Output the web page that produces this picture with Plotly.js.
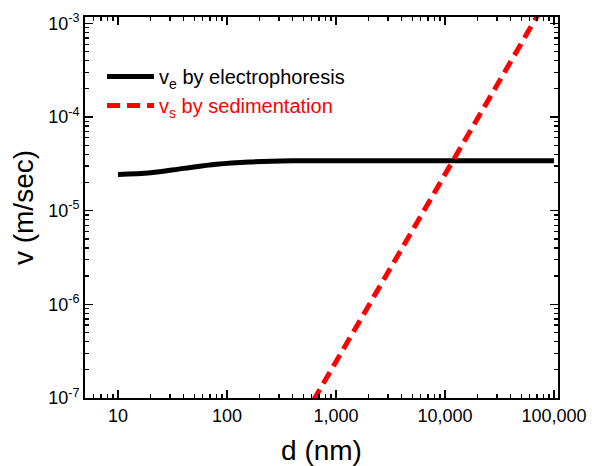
<!DOCTYPE html>
<html>
<head>
<meta charset="utf-8">
<script src="https://cdn.plot.ly/plotly-3.0.1.min.js"></script>
<style>html,body{margin:0;padding:0;background:#fff;}#chart{width:592px;height:466px;}</style>
</head>
<body>
<div id="chart"></div>
<script>
// electrophoresis velocity
var dElectro = [10, 20, 40, 80, 160, 400, 1000, 10000, 100000];
var vElectro = [2.44e-5, 2.54e-5, 2.83e-5, 3.13e-5, 3.31e-5, 3.41e-5, 3.42e-5, 3.42e-5, 3.42e-5];
// sedimentation velocity
var dSedim = [500, 1000, 10000, 100000];
var vSedim = [6.1e-8, 2.43e-7, 2.43e-5, 2.43e-3];

var xTickVals = [10, 100, 1000, 10000, 100000];
var xTickText = ['10', '100', '1,000', '10,000', '100,000'];
var yTickVals = [1e-7, 1e-6, 1e-5, 1e-4, 1e-3];
var yTickText = ['10<sup>-7</sup>', '10<sup>-6</sup>', '10<sup>-5</sup>', '10<sup>-4</sup>', '10<sup>-3</sup>'];
var minorDigits = [2, 3, 4, 5, 6, 7, 8, 9];

function minorTicks(decades) {
  var out = [];
  decades.forEach(function (p) {
    minorDigits.forEach(function (m) { out.push(m * Math.pow(10, p)); });
  });
  return out;
}
var xMinor = minorTicks([0, 1, 2, 3, 4, 5]);
var yMinor = minorTicks([-7, -6, -5, -4, -3]);

var nameElectro = 'v<sub>e</sub> by electrophoresis';
var nameSedim = '<span style="color:#ff0000">v<sub>s</sub> by sedimentation</span>';

var font = 'Arial, "Liberation Sans", sans-serif';

var traces = [
  {x: dElectro, y: vElectro, mode: 'lines', name: nameElectro,
   line: {color: '#000000', width: 5, shape: 'spline'}},
  {x: dSedim, y: vSedim, mode: 'lines', name: nameSedim,
   line: {color: '#ff0000', width: 5, dash: '13px,7px'}}
];

function axisCommon(minorVals) {
  return {
    type: 'log', showgrid: false, zeroline: false,
    showline: true, linecolor: '#000', linewidth: 2, mirror: 'ticks',
    ticks: 'inside', ticklen: 8, tickwidth: 1.6, tickcolor: '#000',
    minor: {tickmode: 'array', tickvals: minorVals, ticks: 'inside', ticklen: 4,
            tickwidth: 1.3, tickcolor: '#000', showgrid: false},
    tickfont: {family: font, size: 18, color: '#000'}
  };
}

var layout = {
  width: 592, height: 466,
  margin: {l: 85, r: 34, t: 17, b: 68},
  paper_bgcolor: '#fff', plot_bgcolor: '#fff',
  showlegend: true,
  legend: {x: 0.036, y: 0.895, xanchor: 'left', yanchor: 'top', bgcolor: 'rgba(0,0,0,0)',
           font: {family: font, size: 20, color: '#000'}, itemwidth: 47},
  xaxis: Object.assign(axisCommon(xMinor), {
    range: [0.697, 5.037],
    tickvals: xTickVals, ticktext: xTickText,
    title: {text: 'd (nm)', font: {family: font, size: 28, color: '#000'}, standoff: 18}
  }),
  yaxis: Object.assign(axisCommon(yMinor), {
    range: [-7, -2.932],
    tickvals: yTickVals, ticktext: yTickText,
    title: {text: 'v (m/sec)', font: {family: font, size: 28, color: '#000'}, standoff: 6}
  })
};

Plotly.newPlot('chart', traces, layout, {staticPlot: true});
</script>
</body>
</html>
